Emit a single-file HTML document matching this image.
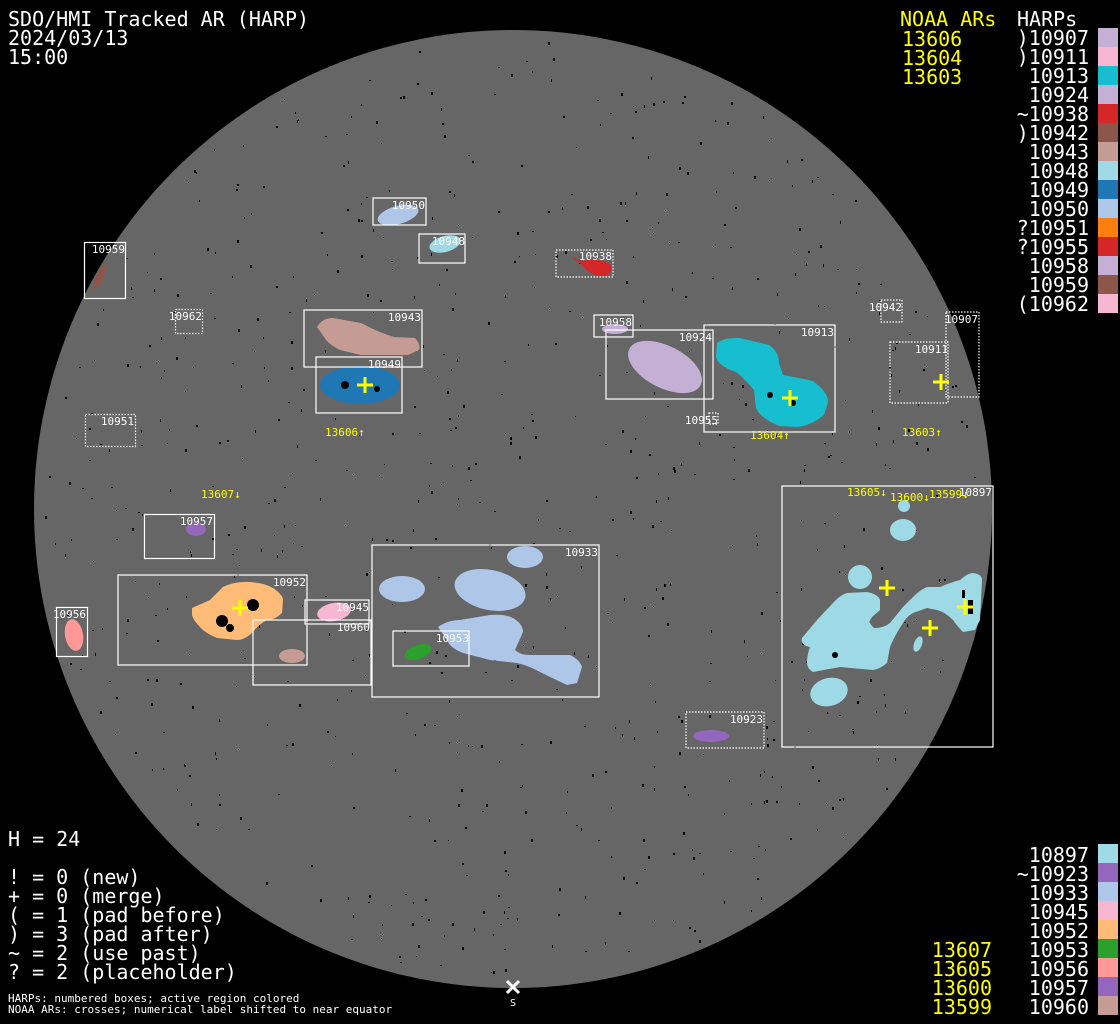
<!DOCTYPE html>
<html><head><meta charset="utf-8">
<style>
html,body{margin:0;padding:0;background:#000;width:1120px;height:1024px;overflow:hidden}
svg{display:block}
text{font-family:"DejaVu Sans Mono","Liberation Mono",monospace}
</style></head><body>
<svg id="s" width="1120" height="1024" viewBox="0 0 1120 1024" xmlns="http://www.w3.org/2000/svg">
<rect width="1120" height="1024" fill="#000"/>
<circle cx="513" cy="509" r="479" fill="#666"/>
<g id="spk"></g>

<!-- blobs -->
<g>
<path d="M92,290 Q96,272 105,263 Q108,266 104,277 Q99,289 92,290Z" fill="#8c564b"/>
<ellipse cx="398" cy="215" rx="21" ry="9" transform="rotate(-15 398 215)" fill="#aec7e8"/>
<ellipse cx="445" cy="244" rx="16" ry="8" transform="rotate(-15 445 244)" fill="#9edae5"/>
<path d="M572,257 L582,261 Q600,257 611,265 Q614,276 600,276 Q588,274 582,265 Z" fill="#d62728"/>
<path d="M317,327 Q322,318 333,318 L361,323 Q380,333 394,337 L415,338 Q421,345 419,350 L408,355 L361,355 L340,350 Q328,344 324,337 Z" fill="#c49c94"/>
<ellipse cx="360" cy="385" rx="40" ry="19" fill="#1f77b4"/>
<ellipse cx="615" cy="329" rx="13" ry="5" fill="#c5b0d5"/>
<ellipse cx="665" cy="367" rx="40" ry="21" transform="rotate(27 665 367)" fill="#c5b0d5"/>
<path d="M717,343 Q725,337 740,338 L769,345 Q779,352 779,363 L783,375 Q800,378 813,381 Q828,392 828,402 L824,415 Q810,426 797,427 L779,426 Q760,418 756,408 L754,390 Q745,379 736,372 Q718,366 716,357 Z" fill="#17becf"/>
<ellipse cx="196" cy="529" rx="10" ry="7" fill="#9467bd"/>
<ellipse cx="74" cy="635" rx="9" ry="16" transform="rotate(-10 74 635)" fill="#ff9896"/>
<path d="M192,608 L210,600 Q217,593 223,587 Q235,581 250,582 Q265,583 273,588 Q283,595 283,600 L282,613 Q275,620 267,620 Q258,625 253,632 Q245,640 237,640 L217,638 Q205,633 200,627 Q193,620 192,615 Z" fill="#ffbb78"/>
<ellipse cx="334" cy="612" rx="17" ry="9" transform="rotate(-10 334 612)" fill="#f7b6d2"/>
<ellipse cx="292" cy="656" rx="13" ry="7" fill="#c49c94"/>
<ellipse cx="525" cy="557" rx="18" ry="11" fill="#aec7e8"/>
<ellipse cx="402" cy="589" rx="23" ry="13" fill="#aec7e8"/>
<ellipse cx="490" cy="590" rx="36" ry="20" transform="rotate(12 490 590)" fill="#aec7e8"/>
<path d="M438,627 Q448,620 460,620 L490,615 Q505,614 513,618 Q523,624 523,632 L515,650 Q520,655 530,655 L570,655 Q580,660 582,667 L577,683 L567,685 Q552,678 540,672 Q527,665 517,663 L490,660 L463,653 Q450,648 447,640 Z" fill="#aec7e8"/>
<ellipse cx="418" cy="652" rx="14" ry="7" transform="rotate(-20 418 652)" fill="#2ca02c"/>
<ellipse cx="711" cy="736" rx="18" ry="6" fill="#9467bd"/>
<ellipse cx="904" cy="506" rx="6" ry="6" fill="#9edae5"/>
<ellipse cx="903" cy="530" rx="13" ry="11" fill="#9edae5"/>
<ellipse cx="860" cy="577" rx="12" ry="12" fill="#9edae5"/>
<path d="M802,638 L817,620 L833,603 Q840,595 847,593 L867,592 Q878,594 880,600 L880,610 L872,617 Q868,623 870,623 Q873,629 877,628 Q885,627 890,623 L903,607 L913,597 Q920,590 927,587 L940,587 Q952,582 960,580 Q968,573 973,573 Q982,574 982,580 L980,620 L975,630 L963,632 Q957,626 953,620 Q945,612 937,610 L927,608 L913,613 Q906,617 903,623 Q895,635 890,647 L887,663 Q880,669 873,670 L840,667 L813,672 Q806,668 807,660 Q808,652 810,647 Q800,645 802,638 Z" fill="#9edae5"/>
<ellipse cx="918" cy="644" rx="4" ry="8" transform="rotate(20 918 644)" fill="#9edae5"/>
<ellipse cx="829" cy="692" rx="19" ry="14" transform="rotate(-15 829 692)" fill="#9edae5"/>
</g>
<!-- sunspots -->
<g fill="#000">
<circle cx="253" cy="605" r="6"/><circle cx="222" cy="621" r="6"/><circle cx="230" cy="628" r="4"/>
<circle cx="345" cy="385" r="4"/><circle cx="377" cy="389" r="3"/>
<circle cx="793" cy="403" r="3"/><circle cx="770" cy="395" r="3"/>
<rect x="968" y="600" width="5" height="14"/><rect x="962" y="590" width="3" height="8"/>
<circle cx="835" cy="655" r="3"/>
</g>

<!-- boxes -->
<g fill="none" stroke="#fff" stroke-width="1.2">
<rect x="373" y="198" width="53" height="27"/>
<rect x="419" y="234" width="46" height="29"/>
<rect x="556" y="250" width="57" height="27" stroke-dasharray="1.5,1.5"/>
<rect x="84.5" y="242.5" width="41" height="56"/>
<rect x="175.5" y="309.5" width="27" height="24" stroke-dasharray="1.5,1.5"/>
<rect x="304" y="310" width="118" height="57"/>
<rect x="316" y="357" width="86" height="56"/>
<rect x="85.5" y="414.5" width="50" height="32" stroke-dasharray="1.5,1.5"/>
<rect x="594" y="315" width="39" height="22"/>
<rect x="606" y="330" width="107" height="69"/>
<rect x="704" y="325" width="131" height="107"/>
<rect x="709" y="413" width="9" height="11" stroke-dasharray="1.5,1.5"/>
<rect x="881" y="300" width="21" height="22" stroke-dasharray="1.5,1.5"/>
<rect x="946" y="312" width="33" height="85" stroke-dasharray="1.5,1.5"/>
<rect x="890" y="342" width="58" height="61" stroke-dasharray="1.5,1.5"/>
<rect x="782" y="486" width="211" height="261"/>
<rect x="144.5" y="514.5" width="70" height="44"/>
<rect x="118" y="575" width="189" height="90"/>
<rect x="305" y="600" width="64" height="24"/>
<rect x="253" y="620" width="118" height="65"/>
<rect x="372" y="545" width="227" height="152"/>
<rect x="393" y="631" width="76" height="35"/>
<rect x="56.5" y="607.5" width="31" height="49"/>
<rect x="686" y="712" width="78" height="36" stroke-dasharray="1.5,1.5"/>
</g>
<g fill="#fff" font-size="11" text-anchor="end">
<text x="425" y="209">10950</text>
<text x="465" y="245">10948</text>
<text x="612" y="260">10938</text>
<text x="125" y="253">10959</text>
<text x="202" y="320">10962</text>
<text x="421" y="321">10943</text>
<text x="401" y="368">10949</text>
<text x="134" y="425">10951</text>
<text x="632" y="326">10958</text>
<text x="712" y="341">10924</text>
<text x="834" y="336">10913</text>
<text x="718" y="424">10955</text>
<text x="902" y="311">10942</text>
<text x="978" y="323">10907</text>
<text x="948" y="353">10911</text>
<text x="992" y="496">10897</text>
<text x="213" y="525">10957</text>
<text x="306" y="586">10952</text>
<text x="369" y="611">10945</text>
<text x="370" y="631">10960</text>
<text x="598" y="556">10933</text>
<text x="469" y="642">10953</text>
<text x="86" y="618">10956</text>
<text x="763" y="723">10923</text>
</g>

<!-- crosses -->
<g stroke="#ff0" stroke-width="3" fill="none">
<path d="M357,385h16M365,377v16"/>
<path d="M782,398h16M790,390v16"/>
<path d="M933,382h16M941,374v16"/>
<path d="M232,608h16M240,600v16"/>
<path d="M879,588h16M887,580v16"/>
<path d="M957,607h16M965,599v16"/>
<path d="M922,628h16M930,620v16"/>
</g>
<g fill="#ff0" font-size="11">
<text x="325" y="436">13606↑</text>
<text x="750" y="439">13604↑</text>
<text x="902" y="436">13603↑</text>
<text x="201" y="498">13607↓</text>
<text x="847" y="496">13605↓</text>
<text x="890" y="501">13600↓</text>
<text x="929" y="498">13599↓</text>
</g>

<!-- S marker -->
<path d="M507,981l12,12M519,981l-12,12" stroke="#fff" stroke-width="3"/>
<text x="513" y="1006" fill="#fff" font-size="10" text-anchor="middle">S</text>

<!-- header -->
<g fill="#fff" font-size="20">
<text x="8" y="26">SDO/HMI Tracked AR (HARP)</text>
<text x="8" y="45">2024/03/13</text>
<text x="8" y="64">15:00</text>
</g>
<g fill="#ff0" font-size="20">
<text x="900" y="26">NOAA ARs</text>
<text x="902" y="46">13606</text>
<text x="902" y="65">13604</text>
<text x="902" y="84">13603</text>
</g>
<text x="1017" y="26" fill="#fff" font-size="20">HARPs</text>
<g fill="#fff" font-size="20" text-anchor="end">
<text x="1089" y="45">)10907</text>
<text x="1089" y="64">)10911</text>
<text x="1089" y="83">10913</text>
<text x="1089" y="102">10924</text>
<text x="1089" y="121">~10938</text>
<text x="1089" y="140">)10942</text>
<text x="1089" y="159">10943</text>
<text x="1089" y="178">10948</text>
<text x="1089" y="197">10949</text>
<text x="1089" y="216">10950</text>
<text x="1089" y="235">?10951</text>
<text x="1089" y="254">?10955</text>
<text x="1089" y="273">10958</text>
<text x="1089" y="292">10959</text>
<text x="1089" y="311">(10962</text>
</g>
<g>
<rect x="1098" y="28" width="20" height="19" fill="#c5b0d5"/>
<rect x="1098" y="47" width="20" height="19" fill="#f7b6d2"/>
<rect x="1098" y="66" width="20" height="19" fill="#17becf"/>
<rect x="1098" y="85" width="20" height="19" fill="#c5b0d5"/>
<rect x="1098" y="104" width="20" height="19" fill="#d62728"/>
<rect x="1098" y="123" width="20" height="19" fill="#8c564b"/>
<rect x="1098" y="142" width="20" height="19" fill="#c49c94"/>
<rect x="1098" y="161" width="20" height="19" fill="#9edae5"/>
<rect x="1098" y="180" width="20" height="19" fill="#1f77b4"/>
<rect x="1098" y="199" width="20" height="19" fill="#aec7e8"/>
<rect x="1098" y="218" width="20" height="19" fill="#ff7f0e"/>
<rect x="1098" y="237" width="20" height="19" fill="#d62728"/>
<rect x="1098" y="256" width="20" height="19" fill="#c5b0d5"/>
<rect x="1098" y="275" width="20" height="19" fill="#8c564b"/>
<rect x="1098" y="294" width="20" height="19" fill="#f7b6d2"/>
</g>

<!-- bottom right legend -->
<g fill="#fff" font-size="20" text-anchor="end">
<text x="1089" y="862">10897</text>
<text x="1089" y="881">~10923</text>
<text x="1089" y="900">10933</text>
<text x="1089" y="919">10945</text>
<text x="1089" y="938">10952</text>
<text x="1089" y="957">10953</text>
<text x="1089" y="976">10956</text>
<text x="1089" y="995">10957</text>
<text x="1089" y="1014">10960</text>
</g>
<g fill="#ff0" font-size="20" text-anchor="end">
<text x="992" y="957">13607</text>
<text x="992" y="976">13605</text>
<text x="992" y="995">13600</text>
<text x="992" y="1014">13599</text>
</g>
<g>
<rect x="1098" y="844" width="20" height="19" fill="#9edae5"/>
<rect x="1098" y="863" width="20" height="19" fill="#9467bd"/>
<rect x="1098" y="882" width="20" height="19" fill="#aec7e8"/>
<rect x="1098" y="901" width="20" height="19" fill="#f7b6d2"/>
<rect x="1098" y="920" width="20" height="19" fill="#ffbb78"/>
<rect x="1098" y="939" width="20" height="19" fill="#2ca02c"/>
<rect x="1098" y="958" width="20" height="19" fill="#ff9896"/>
<rect x="1098" y="977" width="20" height="19" fill="#9467bd"/>
<rect x="1098" y="996" width="20" height="19" fill="#c49c94"/>
</g>

<!-- bottom left -->
<g fill="#fff" font-size="20">
<text x="8" y="846">H = 24</text>
<text x="8" y="884">! = 0 (new)</text>
<text x="8" y="903">+ = 0 (merge)</text>
<text x="8" y="922">( = 1 (pad before)</text>
<text x="8" y="941">) = 3 (pad after)</text>
<text x="8" y="960">~ = 2 (use past)</text>
<text x="8" y="979">? = 2 (placeholder)</text>
</g>
<g fill="#fff" font-size="11">
<text x="8" y="1002">HARPs: numbered boxes; active region colored</text>
<text x="8" y="1013">NOAA ARs: crosses; numerical label shifted to near equator</text>
</g>
</svg>
<script>
(function(){
var g=document.getElementById('spk'),s=12345;
function r(){s=(s*1103515245+12345)&0x7fffffff;return s/0x7fffffff;}
var h='';
for(var i=0;i<800;i++){
var a=r()*Math.PI*2,d=Math.sqrt(r())*470;
var x=513+Math.cos(a)*d,y=509+Math.sin(a)*d;
var w=1+Math.floor(r()*2),hh=1+Math.floor(r()*3);
h+='<rect x="'+x.toFixed(0)+'" y="'+y.toFixed(0)+'" width="'+w+'" height="'+hh+'" fill="#000"/>';
}
g.innerHTML=h;
})();
</script>
</body></html>
